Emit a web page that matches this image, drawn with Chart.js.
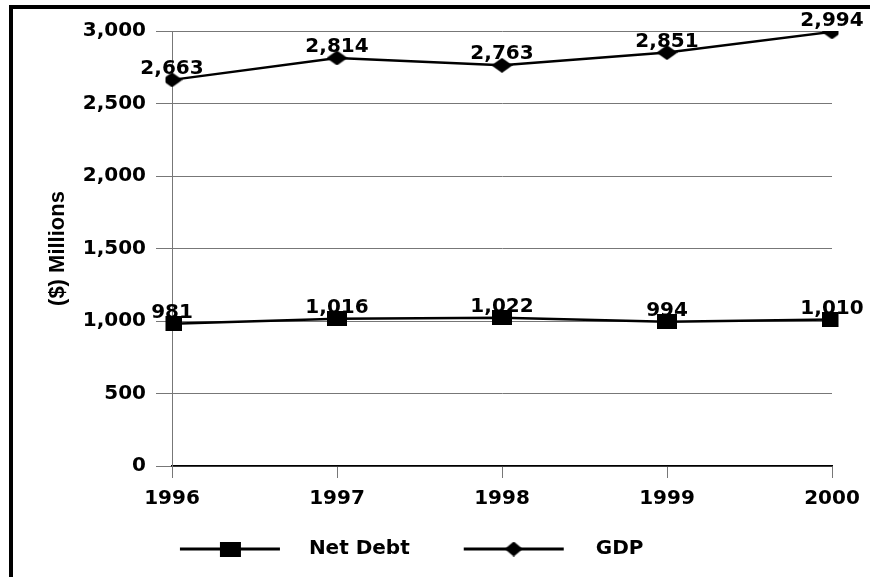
<!DOCTYPE html>
<html>
<head>
<meta charset="utf-8">
<script src="https://cdn.jsdelivr.net/npm/chart.js@4"></script>
<style>
  html, body { margin: 0; padding: 0; background: #fff; }
  #wrap { width: 870px; height: 577px; }
</style>
</head>
<body>
<div id="wrap"><canvas id="chart" width="870" height="577"></canvas></div>
<script>
const years = ["1996", "1997", "1998", "1999", "2000"];
const netDebt = [981, 1016, 1022, 994, 1010];
const gdp = [2663, 2814, 2763, 2851, 2994];
const yTicks = [0, 500, 1000, 1500, 2000, 2500, 3000];

const FONT = "'DejaVu Sans', sans-serif";

// little canvases used as point styles (the picture's markers are a bit wider than tall)
function markerImage(shape, w, h) {
    const c = document.createElement("canvas");
    c.width = w;
    c.height = h;
    const ctx = c.getContext("2d");
    ctx.fillStyle = "#000";
    if (shape === "rect") {
        ctx.fillRect(0, 0, w, h);
    } else {
        ctx.beginPath();
        ctx.moveTo(w / 2, 0);
        ctx.lineTo(w, h / 2);
        ctx.lineTo(w / 2, h);
        ctx.lineTo(0, h / 2);
        ctx.closePath();
        ctx.fill();
    }
    return c;
}

// legend symbol: 100px line with the marker in the middle, shifted inside a transparent box
function legendImage(shape, lineOffset) {
    const c = document.createElement("canvas");
    c.width = 200;
    c.height = 16;
    const ctx = c.getContext("2d");
    ctx.fillStyle = "#000";
    ctx.fillRect(lineOffset, 6.5, 100, 3);
    const m = markerImage(shape, shape === "rect" ? 21 : 18, 15);
    ctx.drawImage(m, lineOffset + 50 - m.width / 2, 0.5);
    return c;
}

const squareMark = markerImage("rect", 20, 15);
const diamondMark = markerImage("diamond", 21, 15);
const legendMarks = [legendImage("rect", 64), legendImage("diamond", 61)];
// trailing spaces only widen the second legend item so both sit where the picture has them
const legendText = ["Net Debt", "GDP        "];

const framePlugin = {
    id: "frame",
    beforeDraw(chart) {
        const ctx = chart.ctx;
        ctx.save();
        ctx.fillStyle = "#000";
        ctx.fillRect(9, 5, 861, 4);
        ctx.fillRect(9, 5, 4, 572);
        ctx.restore();
    }
};

const valueLabels = {
    id: "valueLabels",
    afterDatasetsDraw(chart) {
        const ctx = chart.ctx;
        ctx.save();
        ctx.font = "bold 20px " + FONT;
        ctx.fillStyle = "#000";
        ctx.textAlign = "center";
        ctx.textBaseline = "alphabetic";
        chart.data.datasets.forEach((ds, i) => {
            chart.getDatasetMeta(i).data.forEach((pt, j) => {
                ctx.fillText(ds.data[j].toLocaleString("en-US"), pt.x, pt.y - 6);
            });
        });
        ctx.restore();
    }
};

new Chart(document.getElementById("chart"), {
    type: "line",
    data: {
        labels: years,
        datasets: [
            {
                label: "Net Debt",
                data: netDebt,
                borderColor: "#000",
                borderWidth: 2.5,
                pointStyle: squareMark,
                tension: 0
            },
            {
                label: "GDP",
                data: gdp,
                borderColor: "#000",
                borderWidth: 2.5,
                pointStyle: diamondMark,
                tension: 0
            }
        ]
    },
    options: {
        responsive: false,
        animation: false,
        devicePixelRatio: 1,
        layout: { padding: { top: 31, right: 38, left: 0, bottom: 8 } },
        scales: {
            x: {
                offset: false,
                grid: { drawOnChartArea: false, drawTicks: true, tickLength: 12, color: "#777" },
                border: { color: "#000", width: 1.5 },
                ticks: { color: "#000", padding: 9, font: { family: FONT, size: 20, weight: "bold" } },
                afterFit(scale) { scale.height = 63; }
            },
            y: {
                min: 0,
                max: 3000,
                afterBuildTicks(scale) { scale.ticks = yTicks.map(v => ({ value: v })); },
                grid: { color: "#777", tickLength: 16 },
                border: { color: "#777" },
                ticks: {
                    color: "#000",
                    padding: 10,
                    font: { family: FONT, size: 20, weight: "bold" },
                    callback: v => v.toLocaleString("en-US")
                },
                title: {
                    display: true,
                    text: "($) Millions",
                    color: "#000",
                    padding: { top: 45, bottom: 0 },
                    font: { family: "'Liberation Sans', Arial, sans-serif", size: 22, weight: "bold" }
                },
                afterFit(scale) { scale.width = 172; }
            }
        },
        plugins: {
            legend: {
                position: "bottom",
                labels: {
                    color: "#000",
                    usePointStyle: true,
                    pointStyleWidth: 166,
                    padding: 10,
                    font: { family: FONT, size: 20, weight: "bold" },
                    generateLabels(chart) {
                        return chart.data.datasets.map((ds, i) => ({
                            text: legendText[i],
                            pointStyle: legendMarks[i],
                            fillStyle: "#000",
                            strokeStyle: "#000",
                            lineWidth: 0,
                            fontColor: "#000",
                            hidden: false,
                            datasetIndex: i
                        }));
                    }
                }
            },
            tooltip: { enabled: false }
        }
    },
    plugins: [framePlugin, valueLabels]
});
</script>
</body>
</html>
